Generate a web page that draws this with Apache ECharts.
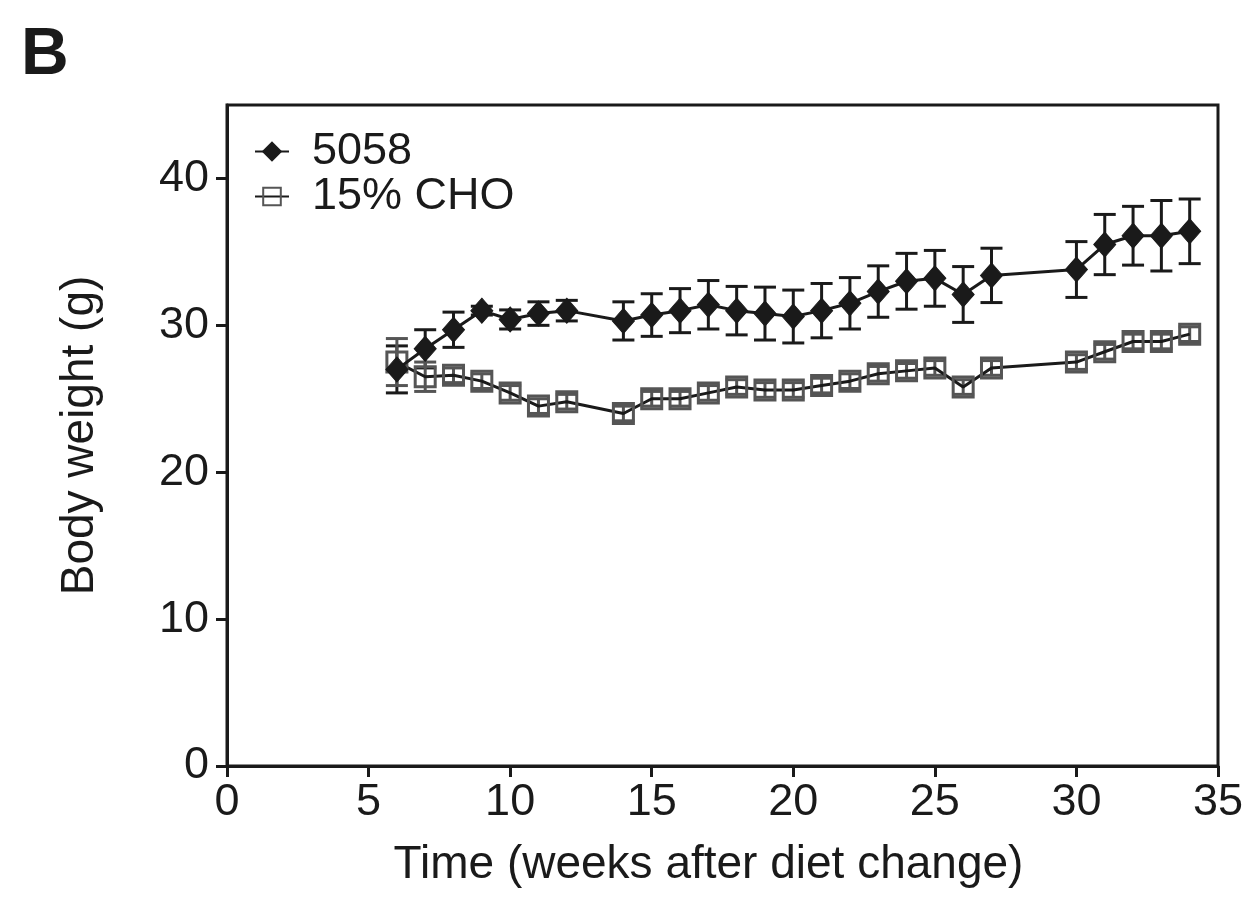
<!DOCTYPE html>
<html>
<head>
<meta charset="utf-8">
<script src="https://cdn.jsdelivr.net/npm/echarts@6/dist/echarts.min.js"></script>
<style>
html,body{margin:0;padding:0;background:#fff;}
#chart{width:1249px;height:920px;}
</style>
</head>
<body>
<div id="chart"></div>
<script>
// Data
const weeks = [6, 7, 8, 9, 10, 11, 12, 14, 15, 16, 17, 18, 19, 20, 21, 22, 23, 24, 25, 26, 27, 30, 31, 32, 33, 34];
const w5058 = [27.0, 28.4, 29.7, 31.0, 30.4, 30.8, 31.0, 30.3, 30.7, 31.0, 31.4, 31.0, 30.8, 30.6, 31.0, 31.5, 32.3, 33.0, 33.2, 32.1, 33.4, 33.8, 35.5, 36.1, 36.1, 36.4];
const e5058 = [1.6, 1.3, 1.2, 0.3, 0.65, 0.8, 0.7, 1.3, 1.45, 1.5, 1.65, 1.65, 1.8, 1.8, 1.85, 1.75, 1.75, 1.9, 1.9, 1.9, 1.85, 1.9, 2.05, 2.0, 2.4, 2.2];
const wCHO = [27.5, 26.5, 26.6, 26.2, 25.4, 24.5, 24.8, 24.0, 25.0, 25.0, 25.4, 25.8, 25.6, 25.6, 25.9, 26.2, 26.7, 26.9, 27.1, 25.8, 27.1, 27.5, 28.2, 28.9, 28.9, 29.4];
const eCHO = [1.6, 1.0, 0.5, 0.5, 0.5, 0.5, 0.5, 0.5, 0.5, 0.5, 0.5, 0.5, 0.5, 0.5, 0.5, 0.5, 0.5, 0.5, 0.5, 0.5, 0.5, 0.5, 0.5, 0.5, 0.5, 0.5];
const xTicks = [0, 5, 10, 15, 20, 25, 30, 35];
const yTicks = [0, 10, 20, 30, 40];
const seriesNames = ['5058', '15% CHO'];

const FONT = 'Liberation Sans';
const chart = echarts.init(document.getElementById('chart'), null, {renderer: 'canvas'});

function pairs(ys) { return weeks.map((w, i) => [w, ys[i]]); }
function errData(ys, es) { return weeks.map((w, i) => [w, ys[i] - es[i], ys[i] + es[i]]); }

function errRender(color) {
  return function (params, api) {
    const x = api.value(0);
    const lo = api.coord([x, api.value(1)]);
    const hi = api.coord([x, api.value(2)]);
    const cap = 11;
    const style = {stroke: color, lineWidth: 3};
    return {
      type: 'group',
      children: [
        {type: 'line', shape: {x1: lo[0], y1: lo[1], x2: hi[0], y2: hi[1]}, style: style},
        {type: 'line', shape: {x1: lo[0] - cap, y1: lo[1], x2: lo[0] + cap, y2: lo[1]}, style: style},
        {type: 'line', shape: {x1: hi[0] - cap, y1: hi[1], x2: hi[0] + cap, y2: hi[1]}, style: style}
      ]
    };
  };
}

const option = {
  backgroundColor: '#fff',
  animation: false,
  title: {
    text: 'B', left: 16, top: 18,
    textStyle: {fontFamily: FONT, fontSize: 66, fontWeight: 'bold', color: '#1a1a1a'}
  },
  grid: {
    left: 227, right: 31, top: 105, bottom: 154,
    show: true, borderColor: '#1a1a1a', borderWidth: 3, backgroundColor: 'transparent'
  },
  legend: {
    data: seriesNames,
    orient: 'vertical',
    left: 249, top: 124,
    itemWidth: 34, itemHeight: 22, itemGap: 0,
    textStyle: {fontFamily: FONT, fontSize: 45, lineHeight: 42, color: '#1a1a1a', padding: [0, 0, 0, 18]}
  },
  xAxis: {
    type: 'value', min: 0, max: 35, interval: 5,
    name: 'Time (weeks after diet change)',
    nameLocation: 'middle', nameGap: 76,
    nameTextStyle: {fontFamily: FONT, fontSize: 46, color: '#1a1a1a', padding: [0, 28, 0, 0]},
    axisLine: {show: true, onZero: false, lineStyle: {color: '#1a1a1a', width: 3}},
    axisTick: {show: true, length: 11, customValues: xTicks, lineStyle: {color: '#1a1a1a', width: 3}},
    axisLabel: {fontFamily: FONT, fontSize: 45, color: '#1a1a1a', margin: 14, customValues: xTicks},
    splitLine: {show: false}
  },
  yAxis: {
    type: 'value', min: 0, max: 45, interval: 10,
    name: 'Body weight (g)',
    nameLocation: 'middle', nameGap: 124,
    nameTextStyle: {fontFamily: FONT, fontSize: 46, color: '#1a1a1a'},
    axisLine: {show: true, onZero: false, lineStyle: {color: '#1a1a1a', width: 3}},
    axisTick: {show: true, length: 11, customValues: yTicks, lineStyle: {color: '#1a1a1a', width: 3}},
    axisLabel: {fontFamily: FONT, fontSize: 45, color: '#1a1a1a', margin: 18, customValues: yTicks},
    splitLine: {show: false}
  },
  series: [
    {
      type: 'custom', name: 'err5058', silent: true, z: 2,
      renderItem: errRender('#1a1a1a'),
      encode: {x: 0, y: [1, 2]},
      data: errData(w5058, e5058)
    },
    {
      type: 'custom', name: 'errCHO', silent: true, z: 2,
      renderItem: errRender('#555'),
      encode: {x: 0, y: [1, 2]},
      data: errData(wCHO, eCHO)
    },
    {
      name: seriesNames[1], type: 'line', z: 3,
      data: pairs(wCHO),
      symbol: 'rect', symbolSize: 20,
      lineStyle: {color: '#1a1a1a', width: 3},
      itemStyle: {color: 'rgba(255,255,255,0)', borderColor: '#555', borderWidth: 3}
    },
    {
      name: seriesNames[0], type: 'line', z: 4,
      data: pairs(w5058),
      symbol: 'diamond', symbolSize: [22, 25],
      lineStyle: {color: '#1a1a1a', width: 3},
      itemStyle: {color: '#1a1a1a', borderColor: '#1a1a1a', borderWidth: 1}
    }
  ]
};
chart.setOption(option);
</script>
</body>
</html>
